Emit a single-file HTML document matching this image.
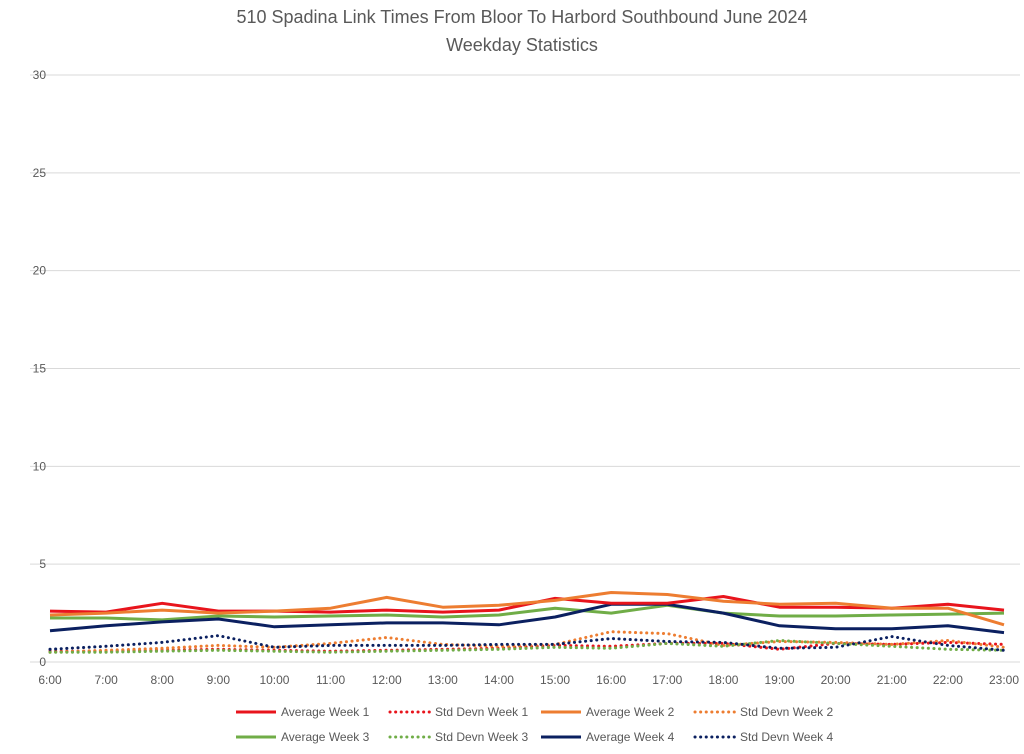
<!DOCTYPE html>
<html><head><meta charset="utf-8"><style>
body{margin:0;background:#fff;font-family:"Liberation Sans",sans-serif;}
svg text{font-family:"Liberation Sans",sans-serif;}
</style></head><body>
<svg id="chart" width="1024" height="749" xmlns="http://www.w3.org/2000/svg">
<text x="522" y="23" text-anchor="middle" font-size="18" fill="#595959">510 Spadina Link Times From Bloor To Harbord Southbound June 2024</text>
<text x="522" y="51" text-anchor="middle" font-size="18" fill="#595959">Weekday Statistics</text>
<g id="grid"></g><g id="series"></g><g id="legend"></g>
</svg>
<script>
const categories=["6:00","7:00","8:00","9:00","10:00","11:00","12:00","13:00","14:00","15:00","16:00","17:00","18:00","19:00","20:00","21:00","22:00","23:00"];
const yTicks=[0,5,10,15,20,25,30];
const avgW1=[2.6,2.55,3.0,2.6,2.6,2.55,2.65,2.55,2.65,3.25,3.0,3.0,3.35,2.8,2.8,2.75,2.95,2.65];
const sdW1=[0.55,0.55,0.6,0.65,0.6,0.55,0.6,0.65,0.7,0.85,0.8,0.95,0.95,0.65,0.95,0.9,1.0,0.9];
const avgW2=[2.4,2.5,2.65,2.5,2.6,2.75,3.3,2.8,2.9,3.15,3.55,3.45,3.1,2.95,3.0,2.75,2.75,1.9];
const sdW2=[0.5,0.6,0.7,0.85,0.75,0.95,1.25,0.9,0.8,0.9,1.55,1.45,0.85,1.05,1.0,0.9,1.1,0.75];
const avgW3=[2.25,2.25,2.15,2.35,2.3,2.35,2.4,2.3,2.4,2.75,2.5,2.9,2.5,2.35,2.35,2.4,2.45,2.5];
const sdW3=[0.5,0.5,0.55,0.6,0.55,0.5,0.55,0.6,0.65,0.75,0.7,0.95,0.8,1.1,0.95,0.8,0.65,0.6];
const avgW4=[1.6,1.85,2.05,2.2,1.8,1.9,2.0,2.0,1.9,2.3,2.95,2.95,2.5,1.85,1.7,1.7,1.85,1.5];
const sdW4=[0.65,0.8,1.0,1.35,0.75,0.85,0.85,0.85,0.9,0.9,1.2,1.05,1.0,0.7,0.75,1.3,0.85,0.6];
const seriesNames=["Average Week 1","Std Devn Week 1","Average Week 2","Std Devn Week 2","Average Week 3","Std Devn Week 3","Average Week 4","Std Devn Week 4"];
const NS="http://www.w3.org/2000/svg";
const x0=50,x1=1004,y0=662,yTop=75,yMax=30;
function xS(i){return x0+i*(x1-x0)/(categories.length-1);}
function yS(v){return y0-v*(y0-yTop)/yMax;}
function mk(tag,attrs,parent){const e=document.createElementNS(NS,tag);for(const k in attrs)e.setAttribute(k,attrs[k]);parent.appendChild(e);return e;}
const grid=document.getElementById('grid');
yTicks.forEach(t=>{
  const l=mk('line',{x1:30,x2:1020,y1:yS(t),y2:yS(t),stroke:'#d9d9d9','stroke-width':1},grid);
  
  
  const tx=mk('text',{x:46,y:yS(t)+4,'text-anchor':'end','font-size':12,fill:'#595959'},grid);
  tx.textContent=t;
  
  
});
categories.forEach((c,i)=>{
  const tx=mk('text',{x:xS(i),y:684,'text-anchor':'middle','font-size':12,fill:'#595959'},grid);
  tx.textContent=c;
  
  
});
const colors=['#e8141c','#e8141c','#ed7d31','#ed7d31','#70ad47','#70ad47','#0b2060','#0b2060'];
const data=[avgW1,sdW1,avgW2,sdW2,avgW3,sdW3,avgW4,sdW4];
const sg=document.getElementById('series');
const order=[1,3,5,7,4,6,0,2];
order.forEach(k=>{
  const d=data[k].map((v,i)=>(i?'L':'M')+xS(i).toFixed(1)+','+yS(v).toFixed(1)).join(' ');
  const dotted=k%2===1;
  const p=mk('path',{d:d,fill:'none',stroke:colors[k],'stroke-width':3,'stroke-linejoin':'round','stroke-linecap':dotted?'round':'butt','stroke-dasharray':dotted?'0.1 5.5':'none'},sg);
  
  
});
const lg=document.getElementById('legend');
const lx=[236,390,541,695];
seriesNames.forEach((n,k)=>{
  const row=Math.floor(k/4),col=k%4;
  const x=lx[col],y=712+row*25;
  const g=mk('g',{},lg);
  
  
  const dotted=k%2===1;
  mk('line',{x1:x,x2:x+40,y1:y,y2:y,stroke:colors[k],'stroke-width':3,'stroke-linecap':dotted?'round':'butt','stroke-dasharray':dotted?'0.1 5.5':'none'},g);
  const t=mk('text',{x:x+45,y:y+4,'font-size':12,fill:'#595959'},g);
  t.textContent=n;
});
</script>
</body></html>
